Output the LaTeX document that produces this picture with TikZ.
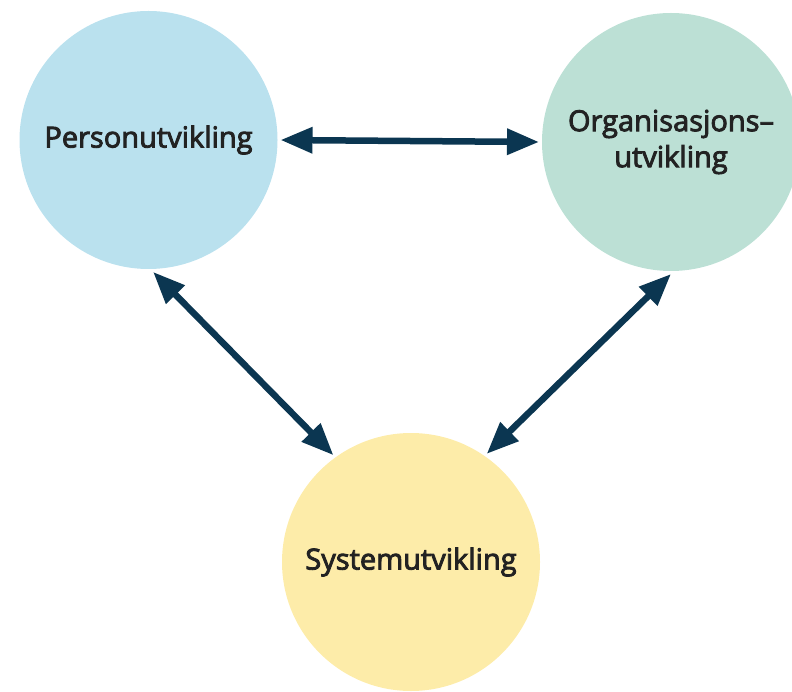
\documentclass[tikz,border=0pt]{standalone}
\usepackage{fontspec}
\setmainfont{Open Sans}
\newfontfamily\lblfont{Open Sans}[FakeBold=3]
\usetikzlibrary{arrows.meta}
\definecolor{cblue}{HTML}{BAE1EE}
\definecolor{cgreen}{HTML}{BCE0D5}
\definecolor{cyellow}{HTML}{FDECA9}
\definecolor{navy}{HTML}{0B3651}
\definecolor{txt}{HTML}{222222}
\begin{document}
\begin{tikzpicture}[x=1pt,y=-1pt,
  blob/.style={circle,minimum size=258pt,inner sep=0pt,outer sep=3pt,
    font=\lblfont\fontsize{29}{36}\selectfont,text=txt,align=center},
  link/.style={navy,line width=6.5pt,{Triangle[length=32pt,width=25pt]}-{Triangle[length=32pt,width=25pt]}}]
\useasboundingbox (0,0) rectangle (792,692);
\node[blob,fill=cblue] (P) at (148.5,140) {Personutvikling};
\node[blob,fill=cgreen] (O) at (671,142) {Organisasjons–\\utvikling};
\node[blob,fill=cyellow] (S) at (411,562) {Systemutvikling};
\draw[link] (P.east) -- (O.west);
\draw[link] (P.-88) -- (S.126);
\draw[link] (O.-90) -- (S.55);
\end{tikzpicture}
\end{document}
